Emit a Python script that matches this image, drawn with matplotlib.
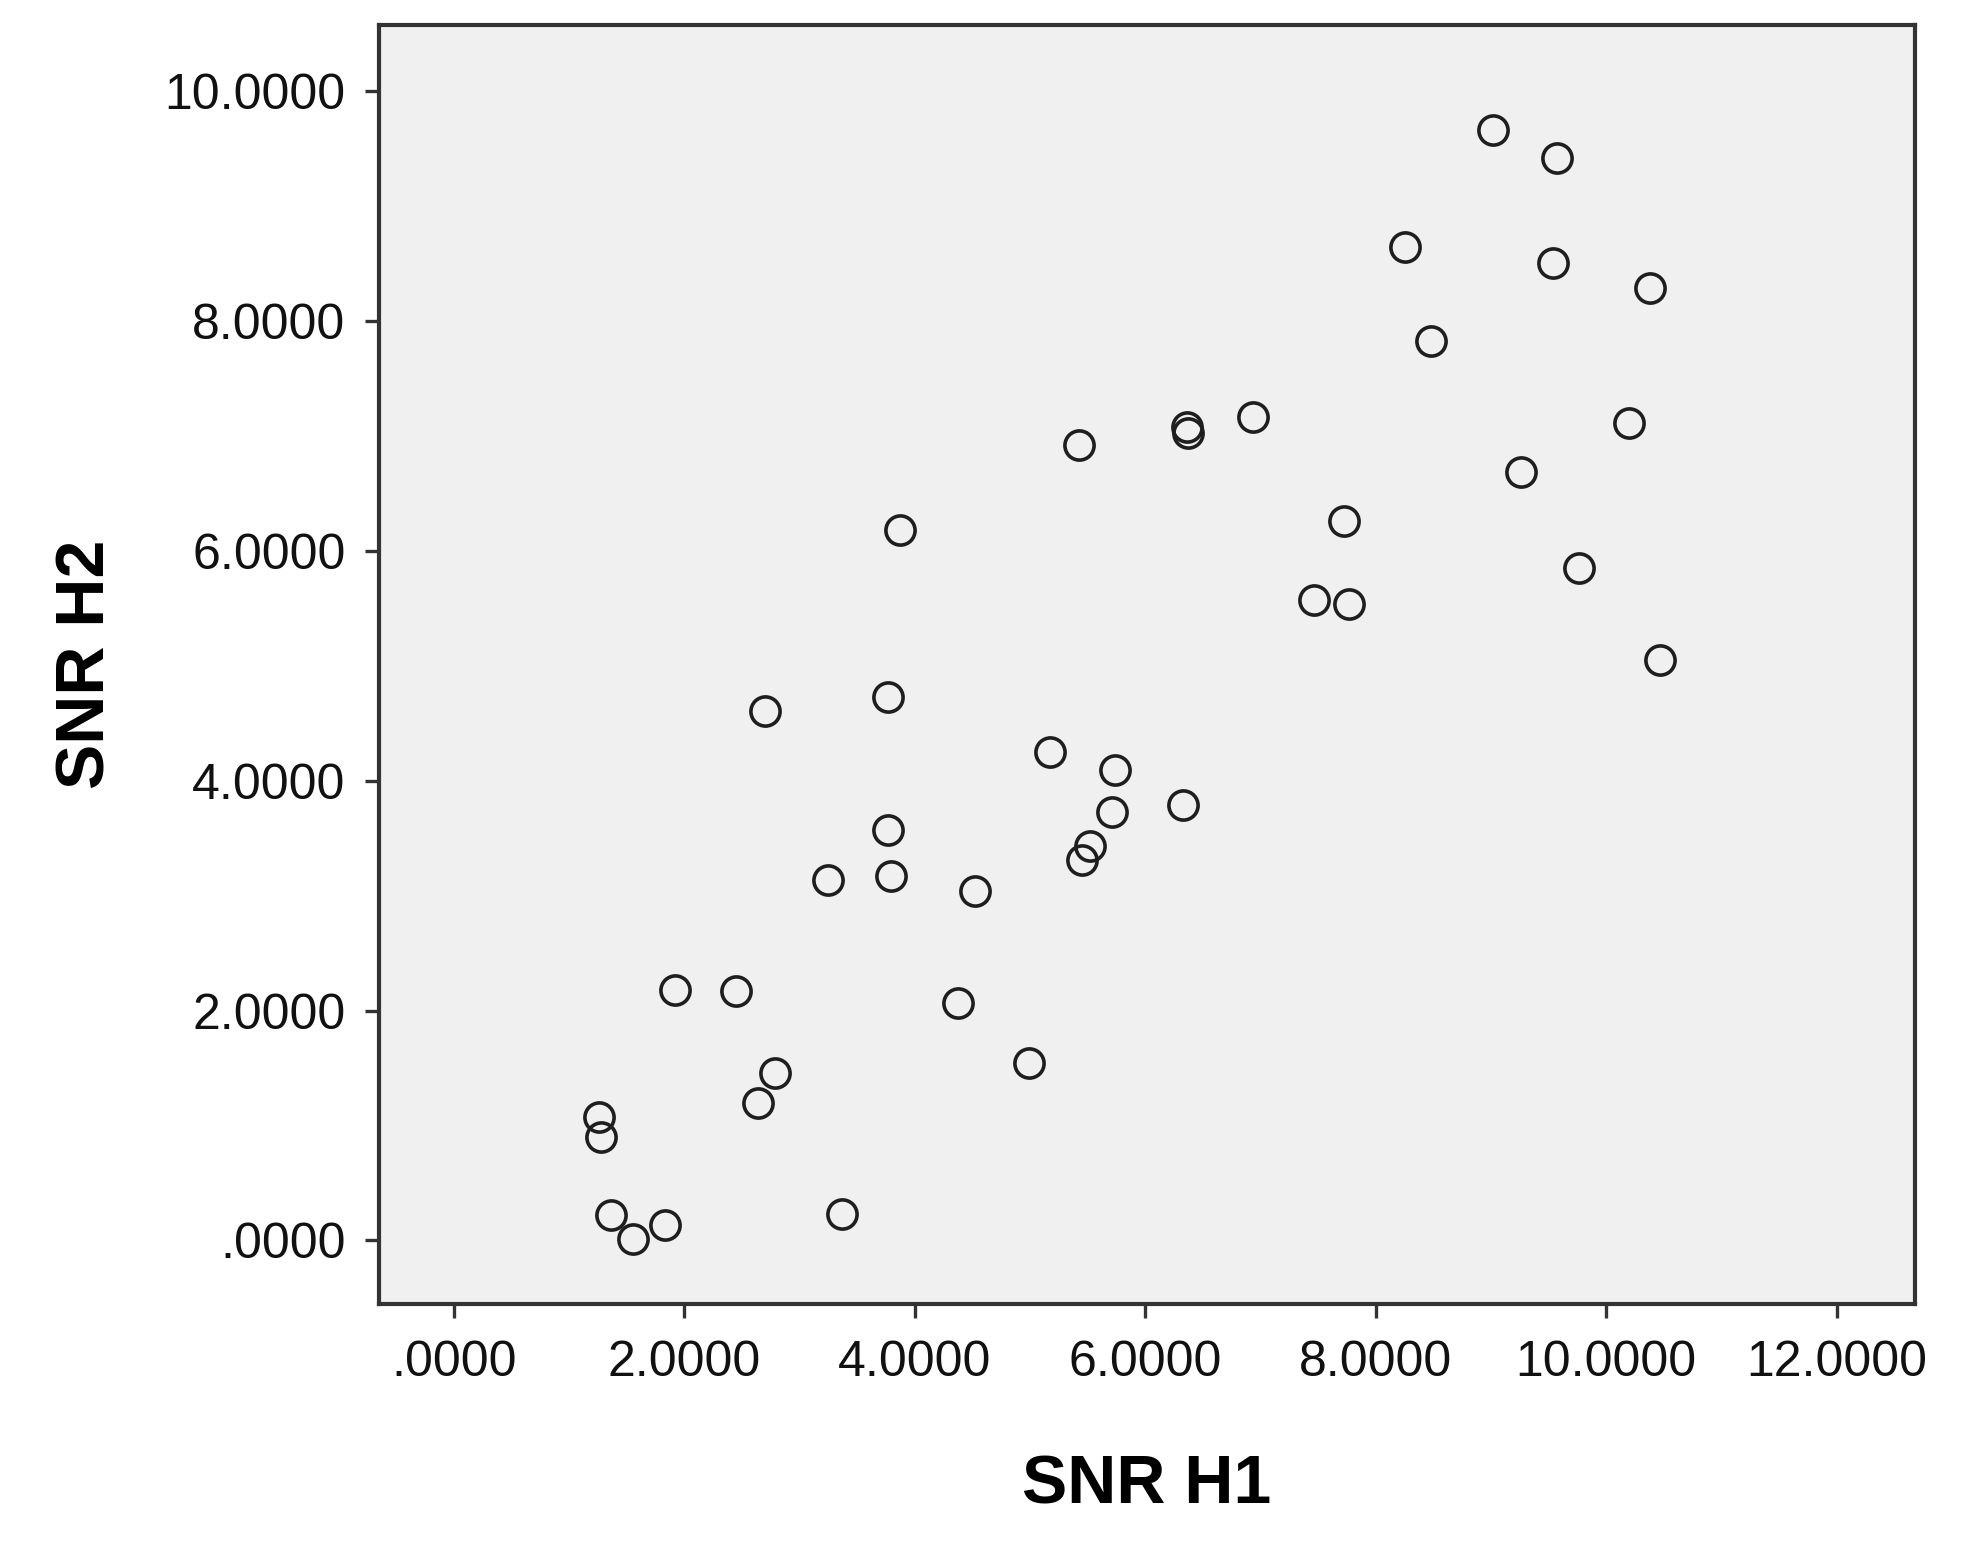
import numpy as np
import matplotlib
matplotlib.use('Agg')
import matplotlib.pyplot as plt
from matplotlib.ticker import FuncFormatter

# SNR 값
snr_h1 = [9.02, 9.57, 8.25, 9.54, 10.38, 8.48, 6.93, 6.36, 6.37, 5.42,
          10.20, 9.26, 3.87, 7.72, 9.76, 7.46, 7.77, 10.47, 2.70, 3.77,
          5.17, 5.74, 5.71, 6.33, 3.77, 5.52, 5.45, 3.25, 3.79, 4.52,
          1.92, 2.45, 4.37, 4.99, 2.79, 2.64, 1.26, 1.28, 1.36, 1.55,
          1.83, 3.37]
snr_h2 = [9.66, 9.42, 8.65, 8.51, 8.29, 7.83, 7.17, 7.08, 7.03, 6.92,
          7.11, 6.69, 6.18, 6.26, 5.85, 5.57, 5.54, 5.05, 4.61, 4.73,
          4.25, 4.09, 3.73, 3.79, 3.57, 3.43, 3.31, 3.14, 3.17, 3.04,
          2.18, 2.17, 2.07, 1.54, 1.46, 1.20, 1.07, 0.90, 0.22, 0.01,
          0.13, 0.23]

x_ticks = [0, 2, 4, 6, 8, 10, 12]
y_ticks = [0, 2, 4, 6, 8, 10]


def spss_fmt(v, pos):
    # SPSS 스타일: 0 앞자리 생략
    s = f"{v:.4f}"
    if s.startswith("0."):
        s = s[1:]
    return s


plt.rcParams['font.family'] = ['Liberation Sans', 'DejaVu Sans']

fig = plt.figure(figsize=(19.63, 15.49), dpi=100)
ax = fig.add_axes([0.193, 0.158, 0.7826, 0.826])
ax.set_facecolor('#f0f0f0')

ax.plot(snr_h1, snr_h2, 'o', ms=21, mfc='none', mec='#1e1e1e', mew=2.6,
        linestyle='none')

ax.set_xlim(-0.652, 12.68)
ax.set_ylim(-0.556, 10.58)
ax.set_xticks(x_ticks)
ax.set_yticks(y_ticks)
ax.xaxis.set_major_formatter(FuncFormatter(spss_fmt))
ax.yaxis.set_major_formatter(FuncFormatter(spss_fmt))

for sp in ax.spines.values():
    sp.set_linewidth(3.0)
    sp.set_color('#333333')

ax.tick_params(axis='both', direction='out', length=10, width=2.4,
               color='#333333', labelsize=36, labelcolor='#111111')
ax.tick_params(axis='x', pad=16)
ax.tick_params(axis='y', pad=14)

ax.set_xlabel('SNR H1', fontsize=49, fontweight='bold', labelpad=48)
ax.set_ylabel('SNR H2', fontsize=49, fontweight='bold', labelpad=33)

fig.savefig('out.png', dpi=100, facecolor='white')
